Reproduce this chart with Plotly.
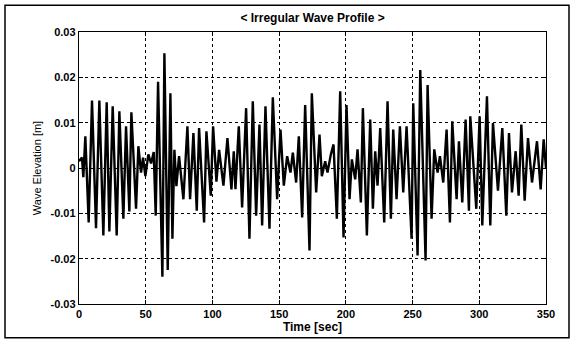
import plotly.graph_objects as go

# Wave extrema (time in s, elevation in mm)
time_s = [0, 2.25, 3.25, 4.75, 7.25, 9.75, 12.75, 15.25, 18.25, 20.75, 22.75, 25.25, 28.25, 30.25,
          33.25, 35.25, 37.75, 39.25, 42.75, 44.5, 46.5, 48, 49.75, 52, 54, 56, 57.5, 59.25, 62.5,
          64, 66.5, 68.5, 70, 71.5, 73, 75, 78.25, 81.25, 83.25, 85.75, 88.25, 90, 93.75, 95.5,
          98.75, 100.5, 103, 105, 108.25, 111.25, 114.25, 116, 117.25, 119.75, 122.25, 125.25,
          127.75, 130.25, 132.75, 135.25, 137.25, 139.75, 142.75, 145.25, 148.5, 151, 153.5, 156,
          158.5, 160.25, 162.75, 164.75, 167.25, 169.5, 172.75, 174.5, 177.75, 180.25, 182, 184.5,
          186.25, 188.75, 190.75, 193.25, 195.75, 198.25, 200.5, 202.75, 204.5, 207, 208.75,
          211.25, 212.75, 215.75, 218.25, 220.25, 222, 223.75, 225.75, 228.75, 231.25, 233.75,
          235.5, 238, 240.5, 243, 245.5, 249.25, 250.5, 253.75, 255.75, 259.75, 261.25, 264.25,
          266.25, 268.75, 270.5, 273, 275.5, 278, 279.75, 283, 284.75, 287.25, 289.75, 292.25,
          293.25, 297.75, 300.25, 302.25, 305.75, 308.25, 310.25, 314, 317.25, 320.25, 322.25,
          324.5, 327.25, 329.5, 331.5, 334, 336.5, 339.5, 343.25, 346, 348.25, 350]
elev_mm = [1.5, 2.3, -2.0, 7.0, -12.0, 14.9, -13.3, 14.9, -14.9, 14.5, -14.0, 13.6, -14.9, 12.5,
           -11.2, 9.2, -9.6, 12.3, -9.0, 4.8, -1.0, 2.3, -1.8, 3.0, 1.0, 3.5, -10.5, 19.0, -24.0,
           25.3, -22.5, 16.5, -15.6, 4.0, -4.0, 2.6, -6.9, 9.2, -6.9, 7.7, -9.4, 8.8, -12.0, 8.1,
           -6.1, 9.2, -3.0, 4.0, -3.9, 6.6, -4.7, 3.7, -4.7, 9.2, -8.7, 13.2, -15.6, 14.7, -10.5,
           9.6, -12.7, 13.6, -13.4, 15.6, -6.9, 8.5, -3.9, 2.6, -1.0, 3.4, -3.2, 7.0, -10.9, 13.9,
           -18.2, 16.5, -5.4, 7.4, -1.8, 1.5, -1.0, 3.0, 5.2, -11.2, 16.9, -15.3, 13.9, -6.9, 1.9,
           -2.5, 4.1, -7.6, 13.2, -14.9, 10.7, -9.0, 3.7, -3.9, 8.8, -12.0, 14.7, -11.2, 8.5,
           -6.9, 9.2, -5.4, 9.2, -15.6, 14.3, -19.3, 21.6, -20.4, 18.3, -11.2, 4.1, -1.0, 2.6,
           -3.2, 8.5, -12.0, 10.3, -6.9, 5.9, -7.6, 10.7, -9.4, 11.4, -9.0, 11.4, -12.7, 15.8,
           -12.7, 9.9, -5.0, 8.8, -10.5, 7.7, -5.4, 3.7, -6.1, 9.6, -7.2, 6.6, -3.2, 5.9, -4.7,
           6.3, 0.0]

x_ticks = [0, 50, 100, 150, 200, 250, 300, 350]
y_ticks = [-0.03, -0.02, -0.01, 0, 0.01, 0.02, 0.03]
y_tick_text = ["-0.03", "-0.02", "-0.01", "0", "0.01", "0.02", "0.03"]

elev_m = [v / 1000.0 for v in elev_mm]

fig = go.Figure()
fig.add_trace(go.Scatter(x=time_s, y=elev_m, mode="lines",
                         line=dict(color="black", width=2.4),
                         hoverinfo="skip", showlegend=False))

tick_font = dict(family="Liberation Sans", size=11, color="black", weight="bold")
axis_common = dict(showline=True, linecolor="black", linewidth=1.4, mirror="ticks",
                   ticks="inside", ticklen=4, tickcolor="black",
                   showgrid=True, gridcolor="black", griddash="dot", gridwidth=1.3,
                   zeroline=False, tickfont=tick_font)

fig.update_xaxes(range=[0, 350], tickvals=x_ticks, ticktext=[str(v) for v in x_ticks],
                 title=dict(text="Time [sec]", standoff=2,
                            font=dict(family="Liberation Sans", size=12, color="black", weight="bold")),
                 **axis_common)
fig.update_yaxes(range=[-0.03, 0.03], tickvals=y_ticks, ticktext=y_tick_text,
                 title=dict(text="Wave Elevation [m]", standoff=6,
                            font=dict(family="Liberation Sans", size=11, color="black")),
                 **axis_common)

fig.update_layout(
    width=573, height=343,
    margin=dict(l=79, r=27, t=32, b=36),
    paper_bgcolor="white", plot_bgcolor="white",
    title=dict(text="< Irregular Wave Profile >", x=0.5455, xanchor="center",
               y=1 - 18 / 343, yanchor="middle",
               font=dict(family="Liberation Sans", size=12, color="black", weight="bold")),
    shapes=[dict(type="rect", xref="paper", yref="paper",
                 x0=(5 - 79) / 467, x1=(569 - 79) / 467,
                 y0=(307 - 341) / 275, y1=1 + (32 - 5) / 275,
                 line=dict(color="black", width=1.5))],
)

fig.write_html("out.html")
